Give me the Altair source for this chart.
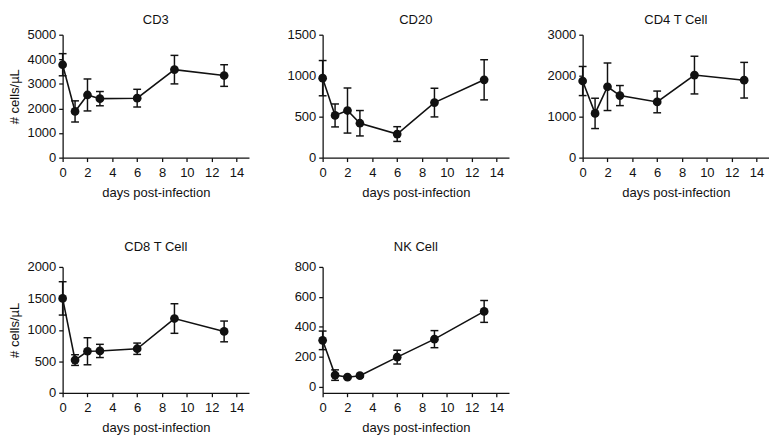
import altair as alt
import pandas as pd

days = [0, 1, 2, 3, 6, 9, 13]

cd3_mean = [3780, 1880, 2550, 2400, 2420, 3580, 3340]
cd3_err = [450, 430, 650, 290, 360, 580, 440]

cd20_mean = [970, 515, 575, 420, 288, 672, 950]
cd20_err = [215, 140, 275, 155, 90, 175, 245]

cd4_mean = [1870, 1080, 1730, 1515, 1360, 2015, 1890]
cd4_err = [355, 370, 580, 245, 265, 460, 435]

cd8_mean = [1500, 520, 660, 665, 700, 1180, 975]
cd8_err = [265, 85, 215, 105, 90, 235, 165]

nk_mean = [310, 78, 64, 74, 198, 318, 503]
nk_err = [62, 35, 8, 8, 46, 57, 73]

x_ticks = [0, 2, 4, 6, 8, 10, 12, 14]

FONT = "Liberation Sans"
FS = 13.3
INK = "#111111"


def panel(title, mean, err, ymin, ymax, ystep, height, ytitle=None, toffset=1.5):
    df = pd.DataFrame({
        "day": days,
        "mean": mean,
        "lo": [m - e for m, e in zip(mean, err)],
        "hi": [m + e for m, e in zip(mean, err)],
    })
    yticks = list(range(0, ymax + 1, ystep))
    xenc = alt.X("day:Q",
                 scale=alt.Scale(domain=[0, 15], nice=False, zero=False),
                 axis=alt.Axis(values=x_ticks, title="days post-infection",
                               labelOverlap=False, format="d"))
    yscale = alt.Scale(domain=[ymin, ymax], nice=False, zero=False)
    if ytitle:
        yaxis = alt.Axis(values=yticks, title=ytitle, labelOverlap=False, format="d")
    else:
        yaxis = alt.Axis(values=yticks, title=None, labelOverlap=False, format="d")

    def yenc(field):
        return alt.Y(field, type="quantitative", scale=yscale, axis=yaxis)

    base = alt.Chart(df).encode(x=xenc)
    rule = base.mark_rule(color=INK, strokeWidth=1.5).encode(y=yenc("lo"), y2="hi:Q")
    cap_lo = base.mark_tick(orient="horizontal", size=8, thickness=1.5,
                            color=INK, opacity=1).encode(y=yenc("lo"))
    cap_hi = base.mark_tick(orient="horizontal", size=8, thickness=1.5,
                            color=INK, opacity=1).encode(y=yenc("hi"))
    line = base.mark_line(color=INK, strokeWidth=1.6).encode(y=yenc("mean"))
    pts = base.mark_circle(size=80, color=INK, opacity=1).encode(y=yenc("mean"))
    return alt.layer(rule, cap_lo, cap_hi, line, pts).properties(
        width=191, height=height, title=alt.TitleParams(text=title, offset=toffset))


p1 = panel("CD3", cd3_mean, cd3_err, 0, 5000, 1000, 126, "# cells/µL")
p2 = panel("CD20", cd20_mean, cd20_err, 0, 1500, 500, 126)
p3 = panel("CD4 T Cell", cd4_mean, cd4_err, 0, 3000, 1000, 126)
p4 = panel("CD8 T Cell", cd8_mean, cd8_err, 0, 2000, 500, 129, "# cells/µL", toffset=7.5)
p5 = panel("NK Cell", nk_mean, nk_err, -40, 800, 200, 129, toffset=7.5)

chart = alt.vconcat(
    alt.hconcat(p1, p2, p3, spacing=35.5),
    alt.hconcat(p4, p5, spacing=35.5),
    spacing=41,
).properties(padding=0).configure_view(stroke=None).configure_axis(
    grid=False,
    domainColor=INK, domainWidth=1.3,
    tickColor=INK, tickWidth=1.3, tickSize=4,
    labelFont=FONT, labelFontSize=FS, labelColor=INK,
    titleFont=FONT, titleFontSize=FS, titleColor=INK, titleFontWeight="normal",
).configure_axisX(
    labelFlush=False, labelPadding=4, titlePadding=7.5,
).configure_axisY(
    minExtent=40, maxExtent=40, labelPadding=3, titlePadding=2,
).configure_title(
    font=FONT, fontSize=FS, fontWeight="normal", color=INK, anchor="middle",
)

chart.save("out.html", embed_options={"renderer": "svg", "actions": False})
